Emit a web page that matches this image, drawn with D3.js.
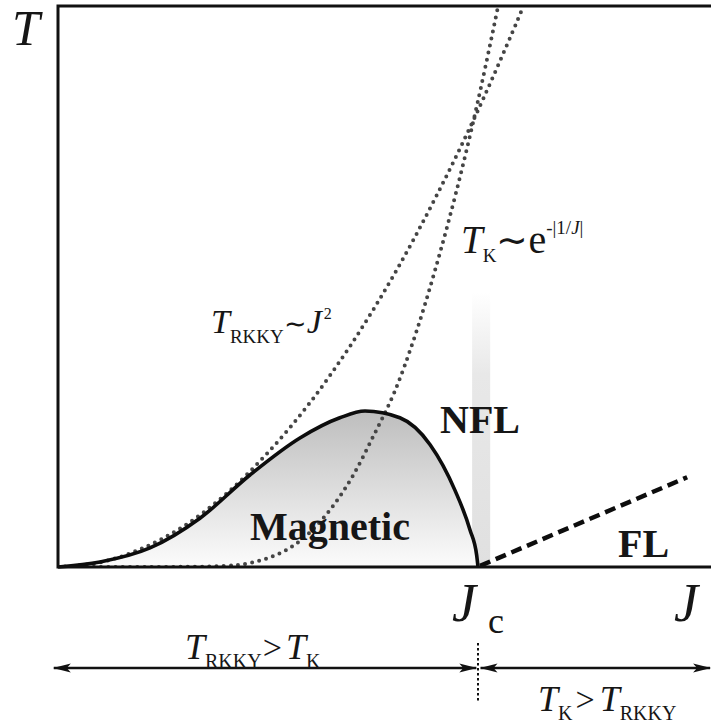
<!DOCTYPE html>
<html><head><meta charset="utf-8">
<script src="https://cdn.jsdelivr.net/npm/d3@7"></script>
<style>
html,body{margin:0;padding:0;background:#fff;}
svg{display:block;}
text{font-family:"Liberation Serif","Times New Roman",serif;fill:#161616;}
</style></head>
<body>
<svg id="chart" width="711" height="724"></svg>
<script>
// ---- data (J in units of Jc, T in units of the frame height) ----
const J_DOME = [0, 0.1, 0.219, 0.338, 0.457, 0.576, 0.671, 0.731, 0.814, 0.886, 0.945, 0.981, 0.997, 1.0];
const T_DOME = [0, 0.009, 0.034, 0.087, 0.164, 0.230, 0.266, 0.278, 0.266, 0.218, 0.137, 0.066, 0.020, 0];

const J_RKKY = [0, 0.1, 0.2, 0.3, 0.4, 0.5, 0.6, 0.7, 0.8, 0.9, 1.0, 1.1, 1.108];
const T_RKKY = [0, 0.008, 0.033, 0.073, 0.130, 0.204, 0.293, 0.399, 0.521, 0.660, 0.814, 0.985, 1.0];

const J_KONDO = [0, 0.3, 0.4, 0.45, 0.5, 0.55, 0.6, 0.65, 0.7, 0.75, 0.8, 0.85, 0.9, 0.95, 1.0, 1.048];
const T_KONDO = [0, 0.0003, 0.002, 0.006, 0.016, 0.033, 0.062, 0.104, 0.160, 0.232, 0.310, 0.412, 0.535, 0.674, 0.831, 1.0];

const J_FL = [1.005, 1.498];
const T_FL = [0.002, 0.160];

const J_MAX = 1.555;   // right edge of the J axis
const JC = 1.0;

const svg = d3.select("#chart");
const x = d3.scaleLinear().domain([0, 1]).range([58, 478]);
const y = d3.scaleLinear().domain([0, 1]).range([567, 6]);

const zip = (a, b) => a.map((v, i) => [v, b[i]]);
const dome = zip(J_DOME, T_DOME);
const rkky = zip(J_RKKY, T_RKKY);
const kondo = zip(J_KONDO, T_KONDO);

const defs = svg.append("defs");
const gDome = defs.append("linearGradient").attr("id", "gDome")
  .attr("gradientUnits", "userSpaceOnUse").attr("x1", 0).attr("x2", 0)
  .attr("y1", y(0.28)).attr("y2", y(0));
gDome.append("stop").attr("offset", 0).attr("stop-color", "#bdbdbd");
gDome.append("stop").attr("offset", 1).attr("stop-color", "#fcfcfc");

const gBand = defs.append("linearGradient").attr("id", "gBand")
  .attr("gradientUnits", "userSpaceOnUse").attr("x1", 0).attr("x2", 0)
  .attr("y1", y(0.49)).attr("y2", y(0));
gBand.append("stop").attr("offset", 0).attr("stop-color", "#ffffff");
gBand.append("stop").attr("offset", 0.3).attr("stop-color", "#e8e8e8");
gBand.append("stop").attr("offset", 1).attr("stop-color", "#e0e0e0");

defs.append("clipPath").attr("id", "plotClip").append("rect")
  .attr("x", x(0)).attr("y", y(1)).attr("width", x(J_MAX) - x(0)).attr("height", y(0) - y(1));

const arrowMarker = (id, orient) => {
  defs.append("marker").attr("id", id).attr("viewBox", "0 -6 18 12")
    .attr("refX", 17).attr("refY", 0).attr("markerWidth", 18).attr("markerHeight", 12)
    .attr("markerUnits", "userSpaceOnUse").attr("orient", orient)
    .append("path").attr("d", "M0,-4.5L18,0L0,4.5L4,0Z").attr("fill", "#111");
};
arrowMarker("arrEnd", "auto");
arrowMarker("arrStart", "auto-start-reverse");

// NFL band
svg.append("rect")
  .attr("x", x(0.986)).attr("y", y(0.49))
  .attr("width", x(1.029) - x(0.986)).attr("height", y(0) - y(0.49))
  .attr("fill", "url(#gBand)");

// Magnetic dome
const curve = d3.curveMonotoneX;
svg.append("path").datum(dome)
  .attr("d", d3.area().x(d => x(d[0])).y0(y(0)).y1(d => y(d[1])).curve(curve))
  .attr("fill", "url(#gDome)");

const plot = svg.append("g").attr("clip-path", "url(#plotClip)");
const dotted = d3.line().x(d => x(d[0])).y(d => y(d[1])).curve(d3.curveCatmullRom.alpha(0.5));

[rkky, kondo].forEach(data => {
  plot.append("path").datum(data).attr("d", dotted)
    .attr("fill", "none").attr("stroke", "#454545").attr("stroke-width", 4)
    .attr("stroke-linecap", "round").attr("stroke-dasharray", "0,7.2");
});

// dome outline
svg.append("path").datum(dome)
  .attr("d", d3.line().x(d => x(d[0])).y(d => y(d[1])).curve(curve))
  .attr("fill", "none").attr("stroke", "#0d0d0d").attr("stroke-width", 3.6);

// FL crossover (dashed)
svg.append("path").datum(zip(J_FL, T_FL))
  .attr("d", d3.line().x(d => x(d[0])).y(d => y(d[1])))
  .attr("stroke", "#0d0d0d").attr("stroke-width", 4.5).attr("stroke-dasharray", "11,6");

// frame: left, bottom, top
const frame = d3.line().x(d => x(d[0])).y(d => y(d[1]));
svg.append("path").datum([[J_MAX, 1], [0, 1], [0, 0], [J_MAX, 0]])
  .attr("d", frame).attr("fill", "none").attr("stroke", "#111").attr("stroke-width", 3);

// axis labels
svg.append("text").attr("x", 12).attr("y", 45).attr("font-size", 50).attr("font-style", "italic").text("T");
svg.append("text").attr("x", 674).attr("y", 621).attr("font-size", 54).attr("font-style", "italic").text("J");
const jc = svg.append("text").attr("x", 452).attr("y", 621);
jc.append("tspan").attr("font-size", 54).attr("font-style", "italic").text("J");
jc.append("tspan").attr("font-size", 36).attr("dx", 12).attr("dy", 12).text("c");

// region labels
const bold = (t, px, py) => svg.append("text").attr("x", px).attr("y", py)
  .attr("font-size", 40).attr("font-weight", "bold").text(t);
bold("NFL", 440, 433);
bold("FL", 618, 557);
bold("Magnetic", 250, 540);

// T_RKKY ~ J^2
const t1 = svg.append("text").attr("x", 211).attr("y", 333);
t1.append("tspan").attr("font-size", 34).attr("font-style", "italic").text("T");
t1.append("tspan").attr("font-size", 19).attr("dy", 10).text("RKKY");
t1.append("tspan").attr("font-size", 27).attr("dy", -10).text("∼");
t1.append("tspan").attr("font-size", 34).attr("font-style", "italic").text("J");
t1.append("tspan").attr("font-size", 16).attr("dy", -14).attr("dx", 2).text("2");

// T_K ~ e^{-|1/J|}
const t2 = svg.append("text").attr("x", 461).attr("y", 253);
t2.append("tspan").attr("font-size", 39).attr("font-style", "italic").text("T");
t2.append("tspan").attr("font-size", 19).attr("dy", 9).text("K");
t2.append("tspan").attr("font-size", 38).attr("dy", -9).text("∼");
t2.append("tspan").attr("font-size", 40).text("e");
t2.append("tspan").attr("font-size", 19).attr("dy", -19).text("-|1/");
t2.append("tspan").attr("font-size", 19).attr("font-style", "italic").text("J");
t2.append("tspan").attr("font-size", 19).text("|");

// regime arrows
const ay = 668;
svg.append("line").attr("x1", x(-0.01)).attr("x2", x(0.996)).attr("y1", ay).attr("y2", ay)
  .attr("stroke", "#111").attr("stroke-width", 2.6)
  .attr("marker-start", "url(#arrStart)").attr("marker-end", "url(#arrEnd)");
svg.append("line").attr("x1", x(1.006)).attr("x2", x(J_MAX) - 1).attr("y1", ay).attr("y2", ay)
  .attr("stroke", "#111").attr("stroke-width", 2.6)
  .attr("marker-start", "url(#arrStart)").attr("marker-end", "url(#arrEnd)");
svg.append("line").attr("x1", x(JC)).attr("x2", x(JC)).attr("y1", 643).attr("y2", 703)
  .attr("stroke", "#111").attr("stroke-width", 2).attr("stroke-dasharray", "2.5,2.5");

const t3 = svg.append("text").attr("x", 185).attr("y", 659);
t3.append("tspan").attr("font-size", 36).attr("font-style", "italic").text("T");
t3.append("tspan").attr("font-size", 20).attr("dy", 9).text("RKKY");
t3.append("tspan").attr("font-size", 34).attr("dy", -9).attr("dx", 1).text(">");
t3.append("tspan").attr("font-size", 36).attr("font-style", "italic").attr("dx", 4).text("T");
t3.append("tspan").attr("font-size", 20).attr("dy", 9).text("K");

const t4 = svg.append("text").attr("x", 538).attr("y", 711);
t4.append("tspan").attr("font-size", 36).attr("font-style", "italic").text("T");
t4.append("tspan").attr("font-size", 20).attr("dy", 9).text("K");
t4.append("tspan").attr("font-size", 34).attr("dy", -9).attr("dx", 3).text(">");
t4.append("tspan").attr("font-size", 36).attr("font-style", "italic").attr("dx", 5).text("T");
t4.append("tspan").attr("font-size", 20).attr("dy", 9).text("RKKY");
</script>
</body></html>
